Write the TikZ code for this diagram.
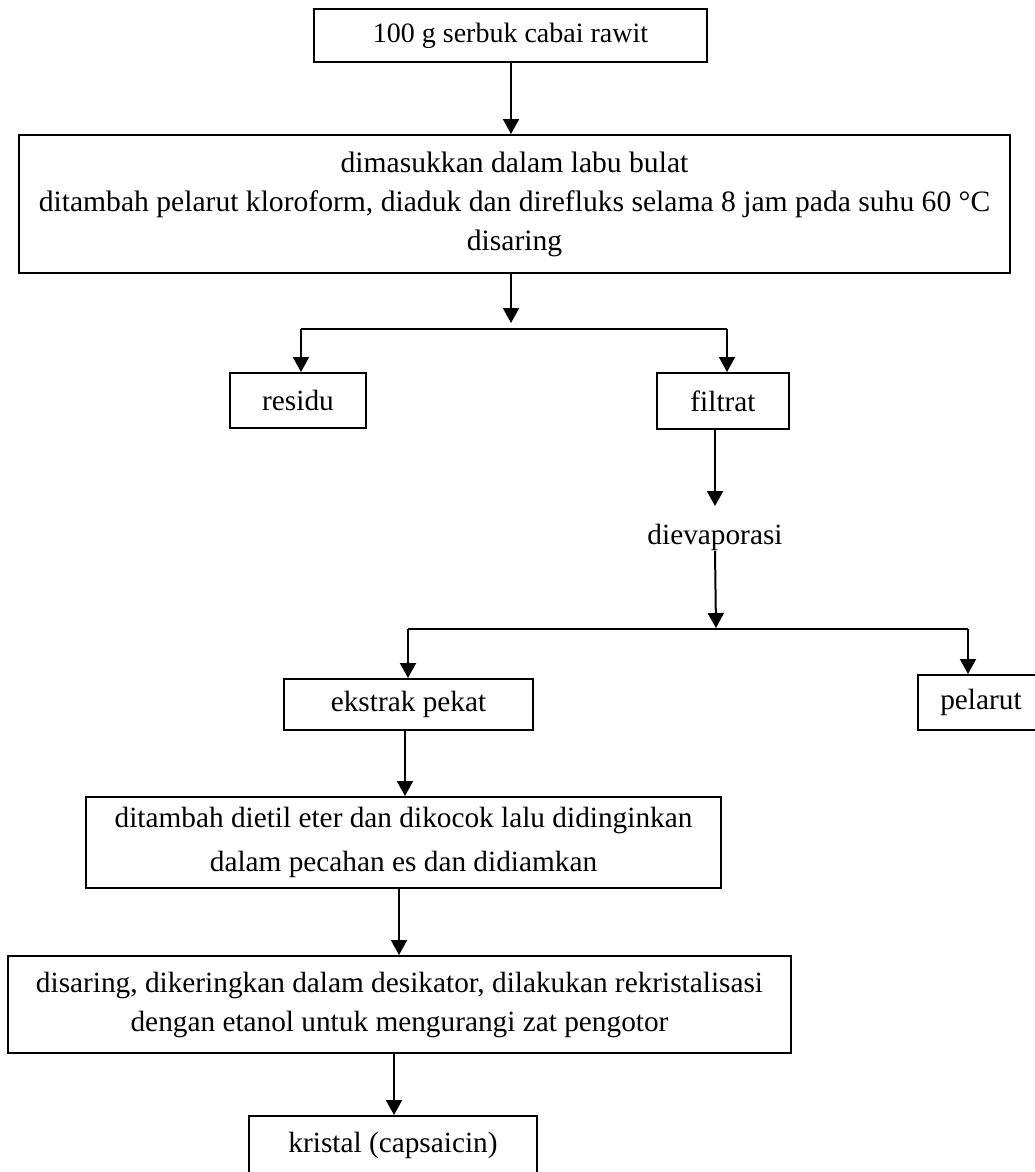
\documentclass[tikz,border=0pt]{standalone}
\usepackage{fontspec}
\setmainfont{Liberation Serif}
\usetikzlibrary{arrows.meta}
\tikzset{
    kotak/.style={draw, line width=2pt, inner sep=0pt, align=center, font=\fontsize{29.3}{39}\selectfont},
    teks/.style={inner sep=0pt, font=\fontsize{29.3}{39}\selectfont},
    panah/.style={-{Triangle[length=15pt,width=16pt]}, line width=2pt},
    garis/.style={line width=2.5pt}
}
\begin{document}
\begin{tikzpicture}[x=1pt,y=-1pt]
                \useasboundingbox (0,0) rectangle (1035,1172);
                \node [kotak, minimum width=393pt, minimum height=53pt, font=\fontsize{28}{39}\selectfont] (serbuk) at (510.5,35.5) {100 g serbuk cabai rawit};
                \node [kotak, minimum width=991pt, minimum height=138pt, font=\fontsize{29.6}{39}\selectfont] (refluks) at (514.5,204) {dimasukkan dalam labu bulat\\ditambah pelarut kloroform, diaduk dan direfluks selama 8 jam pada suhu 60~°C\\disaring};
                \node [kotak, minimum width=136pt, minimum height=55pt] (residu) at (298,400.5) {residu};
                \node [kotak, minimum width=132pt, minimum height=56pt] (filtrat) at (723,401) {filtrat};
                \node [teks] (evap) at (715,537.5) {dievaporasi};
                \node [kotak, minimum width=249pt, minimum height=51pt] (ekstrak) at (408.5,704.5) {ekstrak pekat};
                \node [kotak, minimum width=126pt, minimum height=55pt] (pelarut) at (981,702.5) {pelarut};
                \node [kotak, minimum width=635pt, minimum height=91pt, font=\fontsize{29.3}{44}\selectfont] (eter) at (403.5,842.5) {ditambah dietil eter dan dikocok lalu didinginkan\\dalam pecahan es dan didiamkan};
                \node [kotak, minimum width=783pt, minimum height=97pt] (kristalisasi) at (399.5,1004.5) {disaring, dikeringkan dalam desikator, dilakukan rekristalisasi\\dengan etanol untuk mengurangi zat pengotor};
                \node [kotak, minimum width=288pt, minimum height=58pt] (kristal) at (393,1145) {kristal (capsaicin)};
                \coordinate (cabang1) at (511,329);
                \coordinate (kiri1) at (301,329);
                \coordinate (kanan1) at (727,329);
                \coordinate (cabang2) at (716,629);
                \coordinate (kiri2) at (408,629);
                \coordinate (kanan2) at (968,629);
                \draw [panah] (serbuk.south -| cabang1) -- (refluks.north -| cabang1);
                \draw [panah] (refluks.south -| cabang1) -- ([yshift=6pt]cabang1);
                \draw [garis] (kiri1) -- (kanan1);
                \draw [panah] (kiri1) -- (kiri1 |- residu.north);
                \draw [panah] (kanan1) -- (kanan1 |- filtrat.north);
                \draw [panah, shorten >=18pt] (filtrat.south -| evap) -- (evap.north);
                \draw [panah, shorten >=1pt] (evap.south) -- (cabang2);
                \draw [garis] (kiri2) -- (kanan2);
                \draw [panah] (kiri2) -- (kiri2 |- ekstrak.north);
                \draw [panah] (kanan2) -- (kanan2 |- pelarut.north);
                \draw [panah] ([xshift=-3.5pt]ekstrak.south) -- ([xshift=-3.5pt]ekstrak.south |- eter.north);
                \draw [panah] ([xshift=-4.5pt]eter.south) -- ([xshift=-4.5pt]eter.south |- kristalisasi.north);
                \draw [panah] ([xshift=1pt]kristal.north |- kristalisasi.south) -- ([xshift=1pt]kristal.north);
            \end{tikzpicture}
\end{document}
